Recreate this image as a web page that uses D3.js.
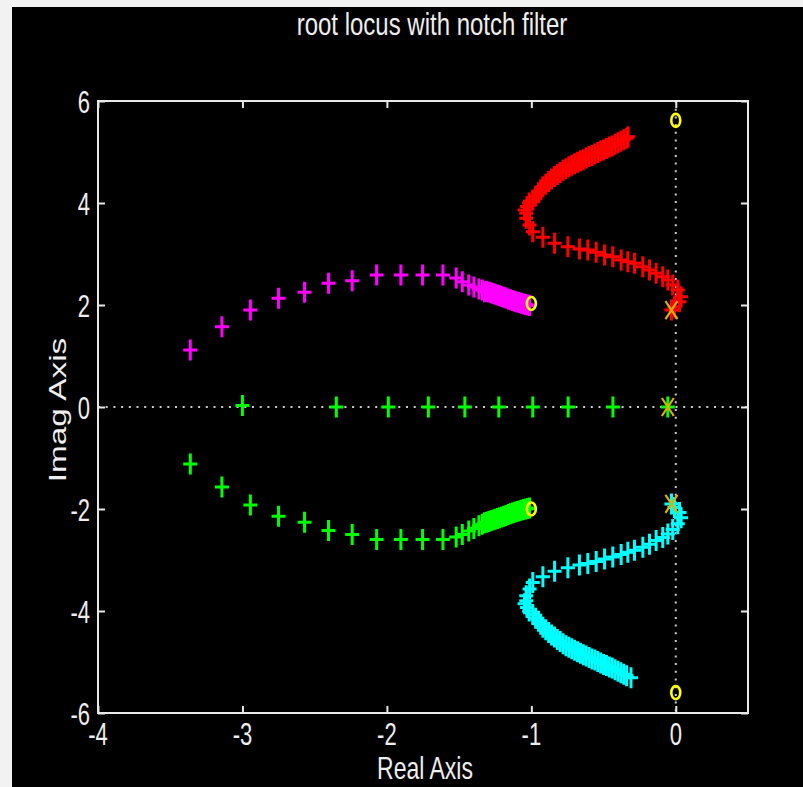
<!DOCTYPE html>
<html>
<head>
<meta charset="utf-8">
<script src="https://cdn.jsdelivr.net/npm/d3@7"></script>
<style>
  body { margin: 0; background: #f2f2f2; }
  svg { display: block; }
  text { font-family: "Liberation Sans", Arial, sans-serif; fill: #eeeeee; }
</style>
</head>
<body>
<svg id="chart" width="803" height="787"></svg>
<script>
// tick values
var x_ticks = [-4, -3, -2, -1, 0];
var y_ticks = [-6, -4, -2, 0, 2, 4, 6];

// branch going up (red, upper right)
var red_branch = [
  [-0.03, 1.90], [-0.009, 1.967], [0.026, 2.065], [0.037, 2.163], [0.014, 2.294], [-0.021, 2.392],
  [-0.055, 2.49], [-0.09, 2.555], [-0.136, 2.621], [-0.182, 2.686], [-0.228, 2.751], [-0.286, 2.818],
  [-0.332, 2.849], [-0.378, 2.882], [-0.436, 2.947], [-0.493, 2.98], [-0.551, 3.033], [-0.609, 3.078],
  [-0.667, 3.098], [-0.747, 3.143], [-0.839, 3.21], [-0.92, 3.327], [-0.99, 3.437], [-1.012, 3.569],
  [-1.035, 3.70], [-1.035, 3.798], [-1.047, 3.863],
  [-1.03, 3.93], [-1.015, 4.0], [-0.99, 4.06], [-0.97, 4.13], [-0.95, 4.2], [-0.935, 4.26],
  [-0.92, 4.32], [-0.9, 4.37], [-0.88, 4.42], [-0.86, 4.47], [-0.84, 4.52], [-0.82, 4.56],
  [-0.8, 4.6], [-0.78, 4.64], [-0.76, 4.67], [-0.74, 4.71], [-0.72, 4.74], [-0.7, 4.77],
  [-0.68, 4.8], [-0.66, 4.83], [-0.64, 4.85], [-0.62, 4.88], [-0.6, 4.91], [-0.58, 4.93],
  [-0.56, 4.96], [-0.54, 4.99], [-0.52, 5.02], [-0.5, 5.04], [-0.48, 5.07], [-0.46, 5.1],
  [-0.44, 5.12], [-0.42, 5.15], [-0.4, 5.18], [-0.38, 5.21], [-0.36, 5.24], [-0.34, 5.27], [-0.33, 5.3]
];

var cyan_branch = [
  [-0.03, -1.90], [-0.009, -1.97], [0.026, -2.07], [0.037, -2.17], [0.014, -2.29], [-0.021, -2.40],
  [-0.055, -2.49], [-0.09, -2.56], [-0.136, -2.62], [-0.182, -2.69], [-0.228, -2.75], [-0.286, -2.81],
  [-0.332, -2.85], [-0.378, -2.89], [-0.436, -2.94], [-0.493, -2.98], [-0.551, -3.03], [-0.609, -3.07],
  [-0.667, -3.10], [-0.747, -3.15], [-0.839, -3.22], [-0.92, -3.33], [-0.99, -3.44], [-1.012, -3.57],
  [-1.035, -3.70], [-1.035, -3.80], [-1.047, -3.86],
  [-1.03, -3.93], [-1.015, -4.0], [-0.99, -4.07], [-0.97, -4.14], [-0.95, -4.2], [-0.935, -4.26],
  [-0.92, -4.32], [-0.9, -4.37], [-0.88, -4.42], [-0.86, -4.47], [-0.84, -4.51], [-0.82, -4.56],
  [-0.8, -4.6], [-0.78, -4.64], [-0.76, -4.68], [-0.74, -4.71], [-0.72, -4.74], [-0.7, -4.77],
  [-0.68, -4.8], [-0.66, -4.83], [-0.64, -4.86], [-0.62, -4.88], [-0.6, -4.91], [-0.58, -4.94],
  [-0.56, -4.96], [-0.54, -4.99], [-0.52, -5.02], [-0.5, -5.05], [-0.48, -5.07], [-0.46, -5.1],
  [-0.44, -5.12], [-0.42, -5.15], [-0.4, -5.18], [-0.38, -5.21], [-0.36, -5.24], [-0.34, -5.27], [-0.31, -5.31]
];

var magenta_branch = [
  [-3.361, 1.118], [-3.142, 1.575], [-2.945, 1.902], [-2.75, 2.131], [-2.57, 2.249], [-2.404, 2.425],
  [-2.24, 2.476], [-2.071, 2.588], [-1.903, 2.588], [-1.753, 2.588], [-1.612, 2.588], [-1.52, 2.529],
  [-1.478, 2.457], [-1.433, 2.392], [-1.398, 2.353], [-1.363, 2.314], [-1.34, 2.294], [-1.324, 2.261],
  [-1.31, 2.27], [-1.295, 2.255], [-1.28, 2.24], [-1.265, 2.225], [-1.25, 2.21], [-1.235, 2.195],
  [-1.22, 2.18], [-1.205, 2.165], [-1.19, 2.15], [-1.175, 2.135], [-1.16, 2.12], [-1.145, 2.105],
  [-1.13, 2.09], [-1.115, 2.075], [-1.1, 2.06], [-1.085, 2.05], [-1.07, 2.035], [-1.055, 2.02],
  [-1.04, 2.01], [-1.025, 2.0], [-1.012, 1.99]
];

var green_branch = [
  [-3.361, -1.12], [-3.142, -1.57], [-2.945, -1.92], [-2.75, -2.14], [-2.57, -2.26], [-2.404, -2.42],
  [-2.24, -2.50], [-2.071, -2.60], [-1.903, -2.60], [-1.753, -2.60], [-1.612, -2.60], [-1.52, -2.55],
  [-1.478, -2.50], [-1.433, -2.43], [-1.398, -2.38], [-1.363, -2.33], [-1.34, -2.30], [-1.324, -2.27],
  [-1.31, -2.26], [-1.295, -2.245], [-1.28, -2.23], [-1.265, -2.215], [-1.25, -2.2], [-1.235, -2.185],
  [-1.22, -2.17], [-1.205, -2.155], [-1.19, -2.14], [-1.175, -2.125], [-1.16, -2.11], [-1.145, -2.095],
  [-1.13, -2.08], [-1.115, -2.065], [-1.1, -2.05], [-1.085, -2.04], [-1.07, -2.025], [-1.055, -2.01],
  [-1.04, -2.0], [-1.025, -1.99], [-1.012, -1.98]
];

// real axis branch (also green)
var real_branch = [
  [-3.0, 0.03], [-2.35, 0], [-1.99, 0], [-1.713, 0], [-1.46, 0], [-1.225, 0],
  [-0.99, 0], [-0.745, 0], [-0.435, 0], [-0.055, 0]
];

var poles = [[-0.03, 1.9], [-0.055, 0], [-0.03, -1.9]];
var zeros = [[0, 5.62], [-1, 2.03], [-1, -2.0], [0, -5.6]];

var svg = d3.select("#chart");
var W = 803, H = 787;

// black picture area
svg.append("rect")
  .attr("x", 12).attr("y", 7)
  .attr("width", W - 12).attr("height", H - 7)
  .attr("fill", "#000");

var x = d3.scaleLinear().domain([-4, 0.5]).range([98, 748]);
var y = d3.scaleLinear().domain([-6, 6]).range([713, 101]);

var stretch = 1.45;  // the original picture is stretched vertically

// dotted zero lines
svg.append("line")
  .attr("x1", x(-4)).attr("x2", x(0.5))
  .attr("y1", y(0)).attr("y2", y(0))
  .attr("stroke", "#cccccc").attr("stroke-width", 2)
  .attr("stroke-dasharray", "2,5.7");
svg.append("line")
  .attr("x1", x(0)).attr("x2", x(0))
  .attr("y1", y(6)).attr("y2", y(-6))
  .attr("stroke", "#cccccc").attr("stroke-width", 2)
  .attr("stroke-dasharray", "2,5.7");

// markers
function draw_plus(data, color){
  svg.append("g").selectAll("path")
    .data(data)
    .enter().append("path")
    .attr("d", function(d){
      var cx = x(d[0]), cy = y(d[1]);
      return "M" + (cx - 7) + "," + cy + "H" + (cx + 7) +
             "M" + cx + "," + (cy - 10.5) + "V" + (cy + 10.5);
    })
    .attr("stroke", color)
    .attr("stroke-width", 3)
    .attr("fill", "none");
}

draw_plus(red_branch, "#ff0000");
draw_plus(cyan_branch, "#00ffff");
draw_plus(magenta_branch, "#ff00ff");
draw_plus(green_branch, "#00ff00");
draw_plus(real_branch, "#00ff00");

// poles
svg.append("g").selectAll("path")
  .data(poles)
  .enter().append("path")
  .attr("d", function(d){
    var cx = x(d[0]), cy = y(d[1]);
    return "M" + (cx - 6) + "," + (cy - 9) + "L" + (cx + 6) + "," + (cy + 9) +
           "M" + (cx - 6) + "," + (cy + 9) + "L" + (cx + 6) + "," + (cy - 9);
  })
  .attr("stroke", "#e0b000")
  .attr("stroke-width", 2.2)
  .attr("fill", "none");

// zeros
svg.append("g").selectAll("ellipse")
  .data(zeros)
  .enter().append("ellipse")
  .attr("cx", function(d){ return x(d[0]); })
  .attr("cy", function(d){ return y(d[1]); })
  .attr("rx", 4.5).attr("ry", 6.5)
  .attr("stroke", "#ffff00")
  .attr("stroke-width", 2.6)
  .attr("fill", "none");

// axes box with inward ticks on all sides
var axis_color = "#e8e8e8";
var gb = svg.append("g").attr("transform", "translate(0," + y(-6) + ")")
  .call(d3.axisBottom(x).tickValues(x_ticks).tickSizeInner(-7).tickSizeOuter(0).tickFormat(""));
var gt = svg.append("g").attr("transform", "translate(0," + y(6) + ")")
  .call(d3.axisTop(x).tickValues(x_ticks).tickSizeInner(-7).tickSizeOuter(0).tickFormat(""));
var gl = svg.append("g").attr("transform", "translate(" + x(-4) + ",0)")
  .call(d3.axisLeft(y).tickValues(y_ticks).tickSizeInner(-7).tickSizeOuter(0).tickFormat(""));
var gr = svg.append("g").attr("transform", "translate(" + x(0.5) + ",0)")
  .call(d3.axisRight(y).tickValues(y_ticks).tickSizeInner(-7).tickSizeOuter(0).tickFormat(""));
[gb, gt, gl, gr].forEach(function(g){
  g.selectAll("line").attr("stroke", axis_color).attr("stroke-width", 2);
  g.select(".domain").remove();
});
svg.append("rect")
  .attr("x", x(-4)).attr("y", y(6))
  .attr("width", x(0.5) - x(-4)).attr("height", y(-6) - y(6))
  .attr("fill", "none")
  .attr("stroke", axis_color)
  .attr("stroke-width", 2);

// tick labels
svg.append("g").selectAll("text")
  .data(x_ticks)
  .enter().append("text")
  .attr("transform", function(d){ return "translate(" + x(d) + ",745) scale(1," + stretch + ")"; })
  .attr("text-anchor", "middle")
  .style("font-size", "22px")
  .text(function(d){ return d; });

svg.append("g").selectAll("text")
  .data(y_ticks)
  .enter().append("text")
  .attr("transform", function(d){ return "translate(90," + (y(d) + 11.5) + ") scale(1," + stretch + ")"; })
  .attr("text-anchor", "end")
  .style("font-size", "22px")
  .text(function(d){ return d; });

// titles
svg.append("text")
  .attr("transform", "translate(432,35) scale(1,1.32)")
  .attr("text-anchor", "middle")
  .style("font-size", "24px")
  .text("root locus with notch filter");

svg.append("text")
  .attr("transform", "translate(425,779) scale(1,1.4)")
  .attr("text-anchor", "middle")
  .style("font-size", "23px")
  .text("Real Axis");

svg.append("text")
  .attr("transform", "translate(66,410) scale(1," + stretch + ") rotate(-90)")
  .attr("text-anchor", "middle")
  .style("font-size", "23px")
  .text("Imag Axis");
</script>
</body>
</html>
